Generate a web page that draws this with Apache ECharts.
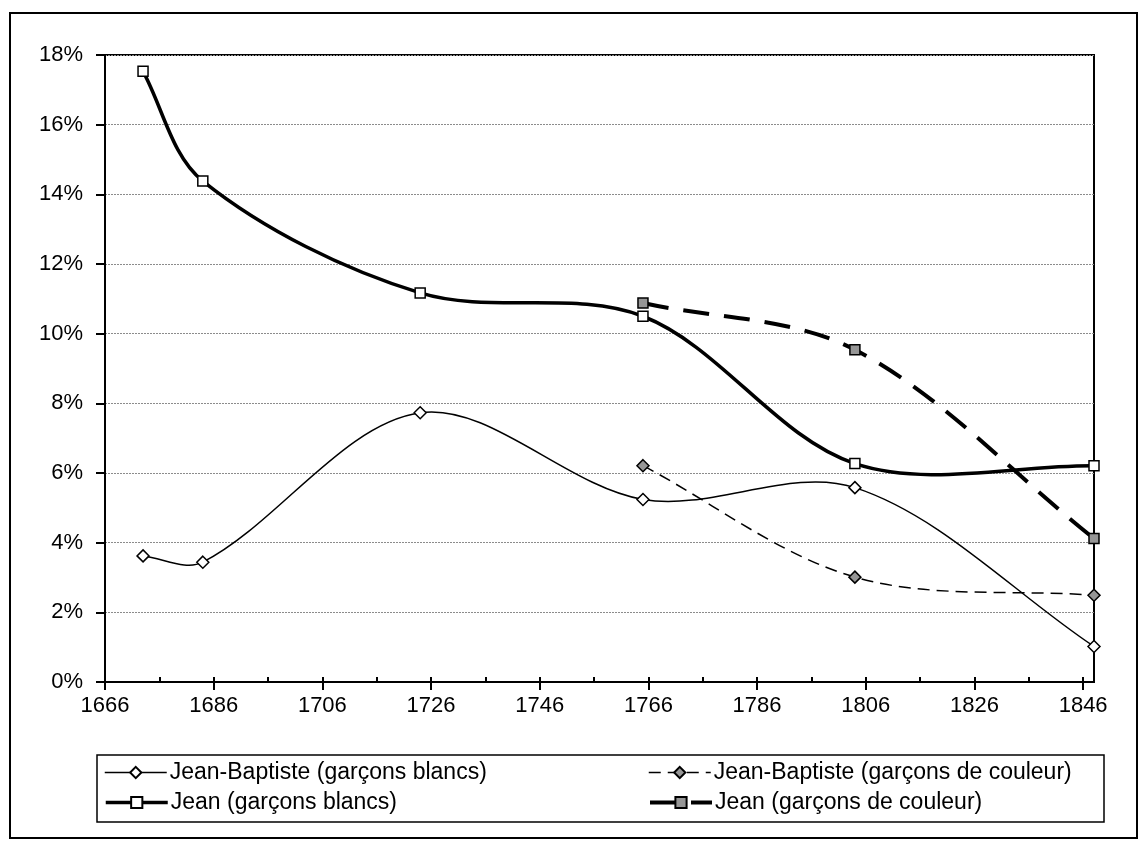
<!DOCTYPE html>
<html>
<head>
<meta charset="utf-8">
<script src="https://cdn.jsdelivr.net/npm/echarts@6/dist/echarts.min.js"></script>
<style>
  html, body { margin: 0; padding: 0; background: #fff; }
  #chart { width: 1147px; height: 850px; }
</style>
</head>
<body>
<div id="chart"></div>
<script>
// Survey years (x) and shares of first names, in percent (y)
const yearsWhite = [1673, 1684, 1724, 1765, 1804, 1848];
const yearsColour = [1765, 1804, 1848];
const jeanBaptisteWhite = [3.62, 3.44, 7.73, 5.24, 5.58, 1.02];
const jeanBaptisteColour = [6.21, 3.01, 2.49];
const jeanWhite = [17.53, 14.38, 11.17, 10.50, 6.27, 6.21];
const jeanColour = [10.88, 9.54, 4.12];

const seriesNames = [
  'Jean-Baptiste (garçons blancs)',
  'Jean-Baptiste (garçons de couleur)',
  'Jean (garçons blancs)',
  'Jean (garçons de couleur)'
];
const xMajorTicks = [1666, 1686, 1706, 1726, 1746, 1766, 1786, 1806, 1826, 1846];
const xMinorTicks = [1676, 1696, 1716, 1736, 1756, 1776, 1796, 1816, 1836];
const yMin = 0, yMax = 18, yStep = 2;

const FONT = "'Liberation Sans', Arial, sans-serif";

function pairs(xs, ys) {
  return xs.map((x, i) => [x, ys[i]]);
}

function dist(a, b) {
  return Math.hypot(b[0] - a[0], b[1] - a[1]);
}

// Smooth curve through the projected points: cubic Bezier segments whose
// tangents follow the neighbouring points, scaled by the segment lengths
function splinePath(pts) {
  const k = 1 / 3;
  let d = 'M' + pts[0][0] + ',' + pts[0][1];
  for (let i = 0; i < pts.length - 1; i++) {
    const p0 = pts[i - 1] || pts[i];
    const p1 = pts[i];
    const p2 = pts[i + 1];
    const p3 = pts[i + 2] || pts[i + 1];
    const dPrev = dist(p0, p1), dSeg = dist(p1, p2), dNext = dist(p2, p3);
    const f1 = k * dSeg / ((dPrev + dSeg) || 1);
    const f2 = k * dSeg / ((dSeg + dNext) || 1);
    const c1x = p1[0] + (p2[0] - p0[0]) * f1, c1y = p1[1] + (p2[1] - p0[1]) * f1;
    const c2x = p2[0] - (p3[0] - p1[0]) * f2, c2y = p2[1] - (p3[1] - p1[1]) * f2;
    d += ' C' + c1x + ',' + c1y + ' ' + c2x + ',' + c2y + ' ' + p2[0] + ',' + p2[1];
  }
  return d;
}

// One curve per series, drawn once from all of its points
function curveSeries(xs, ys, width, dash) {
  return {
    type: 'custom',
    xAxisIndex: 0,
    data: pairs(xs, ys),
    z: 2,
    silent: true,
    renderItem: function (params, api) {
      if (params.dataIndex !== 0) return null;
      const pts = xs.map((x, i) => api.coord([x, ys[i]]));
      return {
        type: 'path',
        shape: { pathData: splinePath(pts) },
        style: { fill: null, stroke: '#000', lineWidth: width, lineDash: dash || null, lineCap: 'butt', lineJoin: 'round' }
      };
    }
  };
}

// Markers (and legend entries) for a series
function markerSeries(name, xs, ys, symbol, size, fill) {
  return {
    name: name, type: 'line', xAxisIndex: 0,
    data: pairs(xs, ys),
    symbol: symbol, symbolSize: size, showSymbol: true,
    lineStyle: { opacity: 0 },
    itemStyle: { color: fill, borderColor: '#000', borderWidth: 1.5 },
    z: 3
  };
}

const lineStyles = [
  { width: 1.5, type: 'solid' },
  { width: 1.5, type: [12, 7] },
  { width: 3.5, type: 'solid' },
  { width: 4, type: [26, 15] }
];

const legendPos = [
  { left: 104, top: 761 },
  { left: 648, top: 761 },
  { left: 104, top: 791 },
  { left: 648, top: 791 }
];

const chart = echarts.init(document.getElementById('chart'), null, { renderer: 'canvas' });

chart.setOption({
  backgroundColor: '#fff',
  animation: false,
  textStyle: { fontFamily: FONT },
  grid: {
    left: 105, top: 55, right: 53, bottom: 168,
    show: true, borderColor: '#000', borderWidth: 2, backgroundColor: 'transparent'
  },
  xAxis: [
    {
      type: 'value', min: 1666, max: 1848, interval: 20,
      axisLine: { show: true, lineStyle: { color: '#000', width: 2 } },
      axisTick: { show: true, inside: false, length: 8, lineStyle: { color: '#000', width: 2 }, customValues: xMajorTicks },
      axisLabel: { color: '#000', fontSize: 22, fontFamily: FONT, margin: 13, customValues: xMajorTicks, formatter: v => String(v) },
      splitLine: { show: false }
    },
    {
      type: 'value', min: 1666, max: 1848, interval: 20, position: 'bottom',
      axisLine: { show: false },
      axisTick: { show: true, inside: true, length: 5, lineStyle: { color: '#000', width: 2 }, customValues: xMajorTicks.concat(xMinorTicks) },
      axisLabel: { show: false },
      splitLine: { show: false }
    }
  ],
  yAxis: {
    type: 'value', min: yMin, max: yMax, interval: yStep,
    axisLine: { show: true, lineStyle: { color: '#000', width: 2 } },
    axisTick: { show: true, inside: false, length: 9, lineStyle: { color: '#000', width: 2 } },
    axisLabel: { color: '#000', fontSize: 22, fontFamily: FONT, margin: 22, formatter: '{value}%' },
    splitLine: { show: true, lineStyle: { color: '#8c8c8c', width: 1, type: [2, 1] } }
  },
  legend: seriesNames.map((name, i) => ({
    data: [name],
    left: legendPos[i].left, top: legendPos[i].top,
    orient: 'horizontal',
    padding: 0,
    itemWidth: 62, itemHeight: 14, itemGap: 4,
    selectedMode: false,
    lineStyle: { color: '#000', opacity: 1, width: lineStyles[i].width, type: lineStyles[i].type },
    textStyle: { color: '#000', fontSize: 23, fontFamily: FONT, padding: [0, 0, 0, -2] }
  })),
  graphic: [
    {
      type: 'rect', silent: true, z: -1,
      shape: { x: 10, y: 13, width: 1127, height: 825 },
      style: { fill: null, stroke: '#000', lineWidth: 2 }
    },
    {
      type: 'rect', silent: true,
      shape: { x: 97, y: 755, width: 1007, height: 67 },
      style: { fill: null, stroke: '#000', lineWidth: 1.5 }
    }
  ],
  series: [
    curveSeries(yearsWhite, jeanBaptisteWhite, lineStyles[0].width, null),
    curveSeries(yearsColour, jeanBaptisteColour, lineStyles[1].width, lineStyles[1].type),
    curveSeries(yearsWhite, jeanWhite, lineStyles[2].width, null),
    curveSeries(yearsColour, jeanColour, lineStyles[3].width, lineStyles[3].type),
    markerSeries(seriesNames[0], yearsWhite, jeanBaptisteWhite, 'diamond', 12, '#fff'),
    markerSeries(seriesNames[1], yearsColour, jeanBaptisteColour, 'diamond', 12, '#969696'),
    markerSeries(seriesNames[2], yearsWhite, jeanWhite, 'rect', 10, '#fff'),
    markerSeries(seriesNames[3], yearsColour, jeanColour, 'rect', 10, '#969696')
  ]
});
</script>
</body>
</html>
